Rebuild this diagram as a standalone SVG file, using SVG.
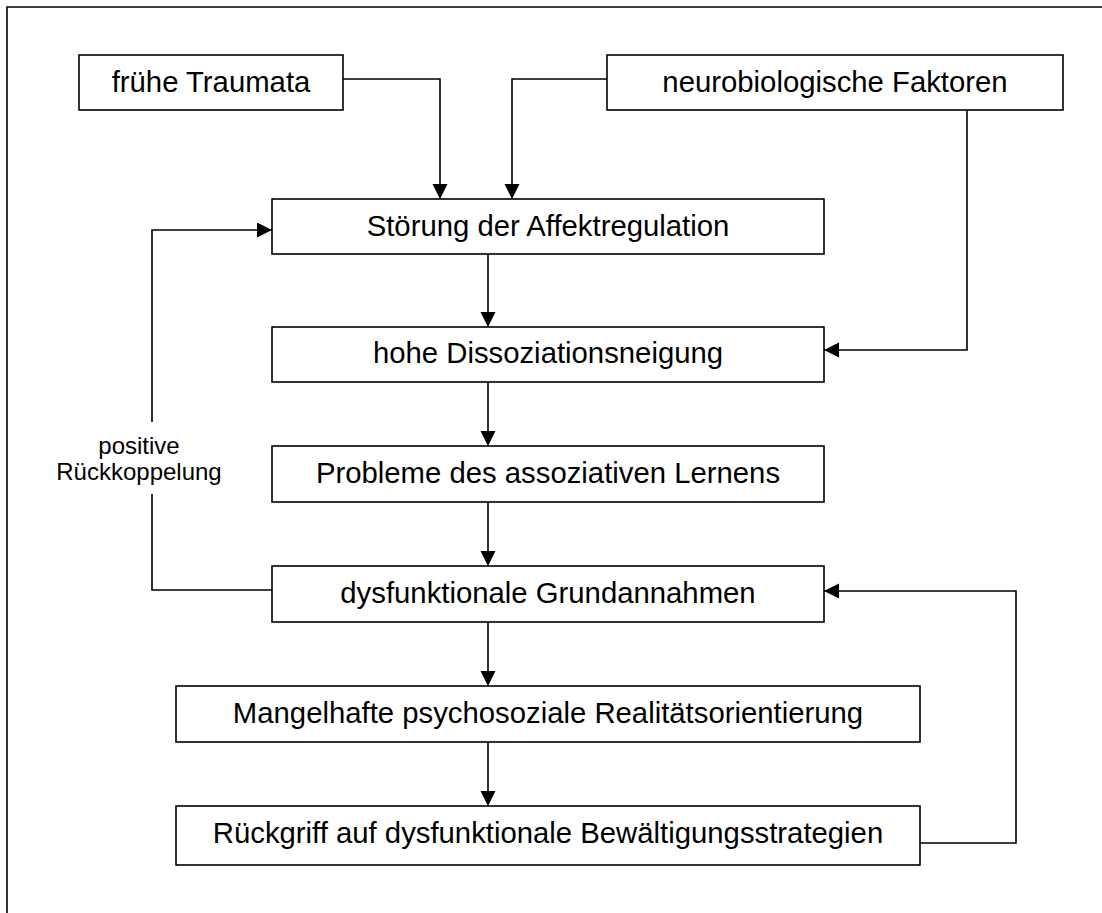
<svg xmlns="http://www.w3.org/2000/svg" width="1102" height="913" viewBox="0 0 1102 913">
<style>
.box{fill:#fff;stroke:#000;stroke-width:1.6}
.t{font-family:"Liberation Sans",Arial,sans-serif;font-size:29.3px;fill:#000;text-anchor:middle}
.s{font-family:"Liberation Sans",Arial,sans-serif;font-size:24px;fill:#000;text-anchor:middle}
.c{fill:none;stroke:#000;stroke-width:1.6}
.frame{fill:none;stroke:#000;stroke-width:1.6}
</style>
<defs>
<marker id="arr" markerUnits="userSpaceOnUse" markerWidth="16" markerHeight="16" refX="15" refY="7.5" orient="auto">
<path d="M0,0 L15,7.5 L0,15 z" fill="#000"/>
</marker>
</defs>
<rect width="1102" height="913" fill="#fff"/>
<path class="frame" d="M7,913 L7,7 L1102,7"/>
<g id="connectors">
<path class="c" d="M343,79 H440 V199" marker-end="url(#arr)"/>
<path class="c" d="M607,79 H512 V199" marker-end="url(#arr)"/>
<path class="c" d="M967,110 V350 H824" marker-end="url(#arr)"/>
<path class="c" d="M488,254 V327" marker-end="url(#arr)"/>
<path class="c" d="M488,382 V446" marker-end="url(#arr)"/>
<path class="c" d="M488,502 V566" marker-end="url(#arr)"/>
<path class="c" d="M488,622 V686" marker-end="url(#arr)"/>
<path class="c" d="M488,742 V806" marker-end="url(#arr)"/>
<path class="c" d="M920,843 H1016 V591 H824" marker-end="url(#arr)"/>
<path class="c" d="M272,590 H152 V494"/>
<path class="c" d="M152,422 V230 H272" marker-end="url(#arr)"/>
<text class="s" x="139" y="454">positive</text>
<text class="s" x="139" y="480">Rückkoppelung</text>
</g>
<g id="n-fruehe">
<rect class="box" x="79" y="55" width="264" height="55"/>
<text class="t" x="211" y="92">frühe Traumata</text>
</g>
<g id="n-neuro">
<rect class="box" x="607" y="55" width="456" height="55"/>
<text class="t" x="835" y="92">neurobiologische Faktoren</text>
</g>
<g id="n-stoerung">
<rect class="box" x="272" y="199" width="552" height="55"/>
<text class="t" x="548" y="236">Störung der Affektregulation</text>
</g>
<g id="n-dissoziation">
<rect class="box" x="272" y="327" width="552" height="55"/>
<text class="t" x="548" y="363">hohe Dissoziationsneigung</text>
</g>
<g id="n-probleme">
<rect class="box" x="272" y="446" width="552" height="56"/>
<text class="t" x="548" y="483">Probleme des assoziativen Lernens</text>
</g>
<g id="n-dysfunktional">
<rect class="box" x="272" y="566" width="552" height="56"/>
<text class="t" x="548" y="603">dysfunktionale Grundannahmen</text>
</g>
<g id="n-mangelhaft">
<rect class="box" x="176" y="686" width="744" height="56"/>
<text class="t" x="548" y="723">Mangelhafte psychosoziale Realitätsorientierung</text>
</g>
<g id="n-rueckgriff">
<rect class="box" x="176" y="806" width="744" height="59"/>
<text class="t" x="548" y="843">Rückgriff auf dysfunktionale Bewältigungsstrategien</text>
</g>
</svg>
